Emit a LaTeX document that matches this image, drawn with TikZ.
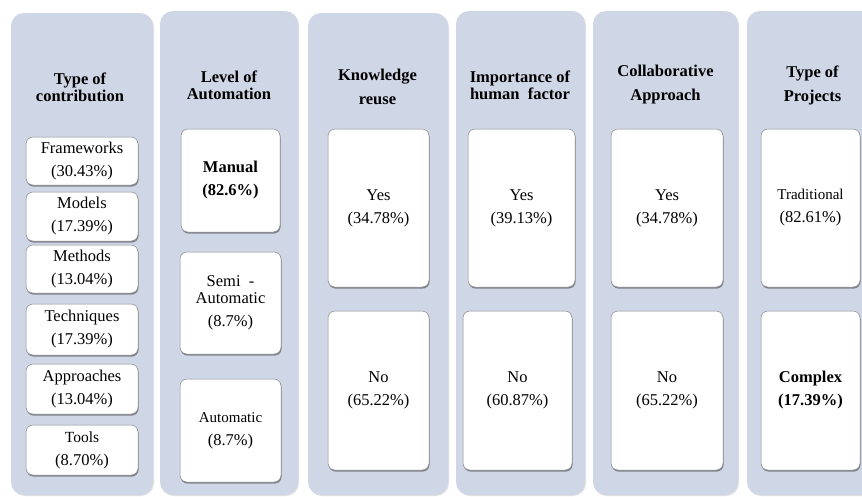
\documentclass[tikz,border=0pt]{standalone}
\usepackage{fontspec}
\setmainfont{Liberation Serif}
\usetikzlibrary{shadows}
\definecolor{panelc}{RGB}{207,214,229}
\definecolor{boxline}{RGB}{135,135,140}
\tikzset{
  panel/.style={fill=panelc, rounded corners=13pt, inner sep=0pt,
    drop shadow={shadow xshift=1pt, shadow yshift=-1pt, opacity=0.12, fill=black}},
  card/.style={fill=white, draw=boxline, line width=0.5pt, rounded corners=7pt,
    inner sep=1pt, align=center,
    font=\fontsize{16.5}{23}\selectfont,
    drop shadow={shadow xshift=0.6pt, shadow yshift=-1.6pt, opacity=0.55, fill=black!75}},
  head/.style={align=center, inner sep=0pt, font=\fontsize{16.5}{17}\selectfont\bfseries},
  headwide/.style={head, font=\fontsize{16.5}{24}\selectfont\bfseries},
}
\newcommand{\cardat}[6]{% name, x1, y1, x2, y2, text
  \node[card, minimum width=#4-#2, minimum height=#5-#3] (#1) at ({(#2+#4)/2},{(#3+#5)/2}) {#6};}
\newcommand{\panelat}[5]{%
  \node[panel, minimum width=#4-#2, minimum height=#5-#3] (#1) at ({(#2+#4)/2},{(#3+#5)/2}) {};}
\begin{document}
\begin{tikzpicture}[x=1pt, y=-1pt]
\useasboundingbox (0,0) rectangle (862,496);
\clip (0,0) rectangle (862,496);
\fill[white] (0,0) rectangle (862,496);
% panels
\panelat{p1}{11}{13}{153}{495}
\panelat{p2}{160}{11}{298}{495}
\panelat{p3}{308}{13}{448}{495}
\panelat{p4}{456}{11}{585}{495}
\panelat{p5}{593}{11}{738}{495}
\panelat{p6}{747}{11}{880}{495}
% headers
\node[head] (h1) at (80,87) {Type of\\contribution};
\node[head] (h2) at (229,85) {Level of\\Automation};
\node[headwide] (h3) at (377.5,87) {Knowledge\\reuse};
\node[head] (h4) at (520,85) {Importance of\\human~ factor};
\node[headwide] (h5) at (665.5,85) {Collaborative\\Approach};
\node[headwide] (h6) at (812.5,85) {Type of\\Projects};
% column 1
\cardat{c1a}{26}{137}{138}{185}{Frameworks\\(30.43\%)}
\cardat{c1b}{26}{192}{138}{241}{Models\\(17.39\%)}
\cardat{c1c}{26}{245}{138}{293}{Methods\\(13.04\%)}
\cardat{c1d}{26}{304}{138}{355}{Techniques\\(17.39\%)}
\cardat{c1e}{26}{364}{138}{414}{Approaches\\(13.04\%)}
\cardat{c1f}{26}{425}{138}{475}{{\fontsize{15.5}{23}\selectfont Tools}\\(8.70\%)}
% column 2
\cardat{c2a}{181}{129}{280}{232}{\bfseries Manual\\\bfseries(82.6\%)}
\cardat{c2b}{180}{252}{281}{354}{Semi~ -\\[-6pt]Automatic\\(8.7\%)}
\cardat{c2c}{180}{379}{281}{482}{{\fontsize{15}{23}\selectfont Automatic}\\(8.7\%)}
% column 3
\cardat{c3a}{328}{129}{429}{287}{Yes\\(34.78\%)}
\cardat{c3b}{328}{311}{429}{470}{No\\(65.22\%)}
% column 4
\cardat{c4a}{468}{129}{575}{287}{Yes\\(39.13\%)}
\cardat{c4b}{463}{311}{572}{470}{No\\(60.87\%)}
% column 5
\cardat{c5a}{611}{129}{723}{287}{Yes\\(34.78\%)}
\cardat{c5b}{611}{311}{723}{470}{No\\(65.22\%)}
% column 6
\cardat{c6a}{761}{129}{860}{287}{{\fontsize{15}{23}\selectfont Traditional}\\(82.61\%)}
\cardat{c6b}{761}{311}{860}{470}{\bfseries Complex\\\bfseries(17.39\%)}
\end{tikzpicture}
\end{document}
